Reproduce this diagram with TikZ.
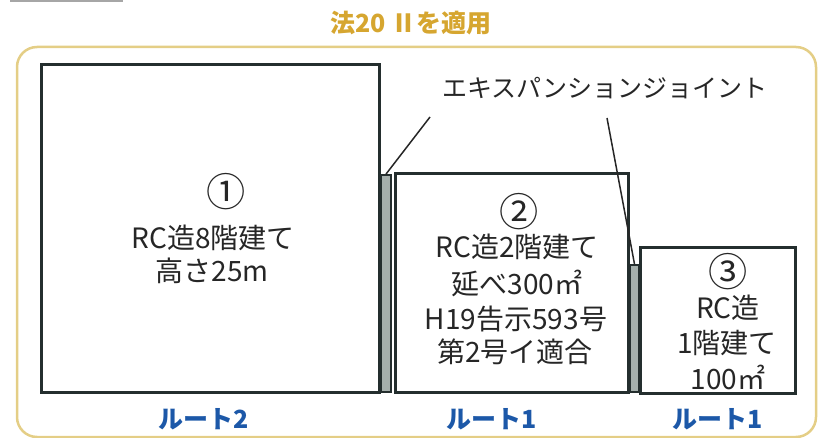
\documentclass[tikz,border=0pt]{standalone}
\usepackage{fontspec}
\setmainfont{Noto Sans CJK JP}
\definecolor{goldt}{RGB}{214,166,48}
\definecolor{goldf}{RGB}{228,206,134}
\definecolor{routeblue}{RGB}{28,88,168}
\definecolor{dark}{RGB}{36,46,46}
\definecolor{jfill}{RGB}{165,175,172}
\tikzset{
  bldg/.style={draw=dark, line width=3pt, rectangle, inner sep=0pt},
  joint/.style={draw=dark, fill=jfill, line width=1.8pt, rectangle, inner sep=0pt},
  txt/.style={font=\fontsize{28}{32}\selectfont, text=black!85, inner sep=0pt},
  circnum/.style={txt, scale=1.4},
  route/.style={font=\bfseries\fontsize{25}{28}\selectfont, text=routeblue, inner sep=0pt},
  leader/.style={draw=black!85, line width=1.5pt}
}
\begin{document}
\begin{tikzpicture}[x=1pt,y=-1pt]
\useasboundingbox (0,0) rectangle (819,438);
% top-left remnant
\draw[gray!70, line width=2pt] (10,1) -- (123,1);
% title
\node[font=\bfseries\fontsize{25}{28}\selectfont, text=goldt, inner sep=0pt] (title) at (411,23) {法20 Ⅱを適用};
% frame
\draw[goldf, line width=2.5pt, rounded corners=20pt] (17,47) rectangle (816,437);
% buildings
\node[bldg, minimum width=338pt, minimum height=327pt] (b1) at (210,228.5) {};
\node[bldg, minimum width=233pt, minimum height=218pt] (b2) at (511.5,283) {};
\node[bldg, minimum width=155pt, minimum height=145pt] (b3) at (717.5,320.5) {};
% joints
\node[joint, minimum width=10pt, minimum height=217pt] (j1) at (386,283.5) {};
\node[joint, minimum width=9pt, minimum height=127pt] (j2) at (634.5,328.5) {};
% leader label
\node[font=\fontsize{25}{28}\selectfont, text=black!85, inner sep=0pt] (ej) at (605,88) {エキスパンションジョイント};
\coordinate (l1) at (430,117);
\coordinate (l2) at (607,118);
\draw[leader] (l1) -- (j1.north);
\draw[leader] (l2) -- (j2.north);
% building 1 text
\node[circnum] (t11) at (226,192) {①};
\node[txt] (t12) at (213,238) {RC造8階建て};
\node[txt] (t13) at (212,271) {高さ25m};
% building 2 text
\node[circnum] (t21) at (519,212) {②};
\node[txt] (t22) at (517,247) {RC造2階建て};
\node[txt] (t23) at (517,283) {延べ300㎡};
\node[txt] (t24) at (516,319) {H19告示593号};
\node[txt] (t25) at (515,352) {第2号イ適合};
% building 3 text
\node[circnum] (t31) at (728,272) {③};
\node[txt] (t32) at (728,308) {RC造};
\node[txt] (t33) at (727,343) {1階建て};
\node[txt] (t34) at (728,377) {100㎡};
% routes
\node[route] (r1) at (204,419) {ルート2};
\node[route] (r2) at (492,419) {ルート1};
\node[route] (r3) at (718,419) {ルート1};
\end{tikzpicture}
\end{document}
